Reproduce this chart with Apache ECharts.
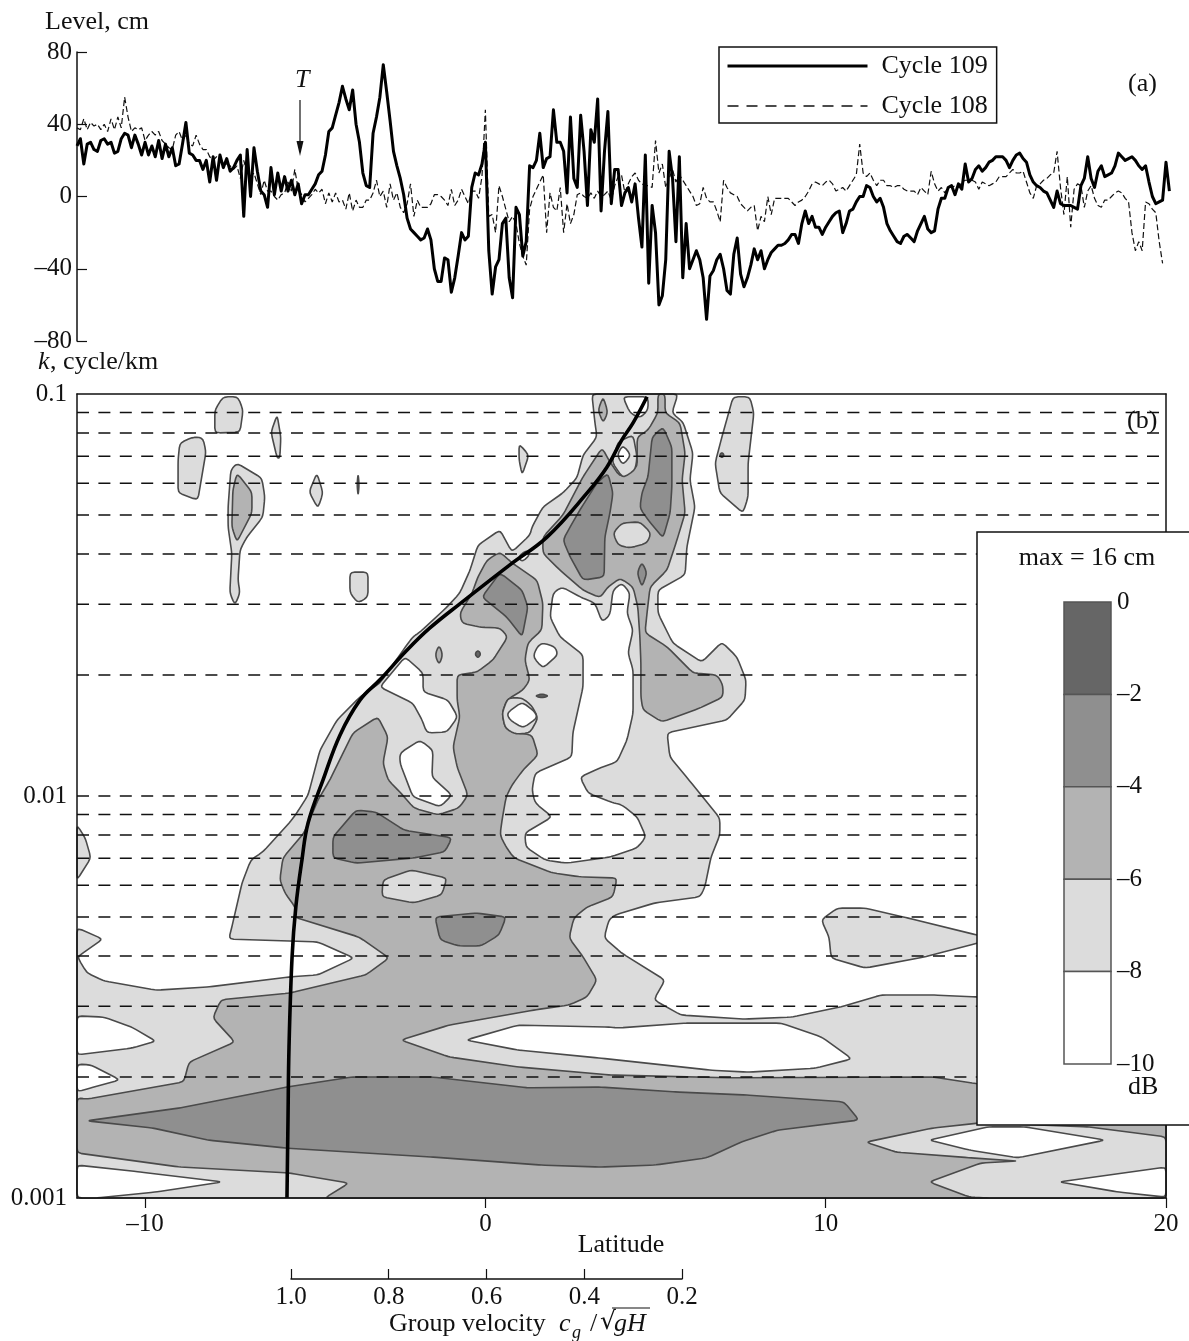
<!DOCTYPE html>
<html><head><meta charset="utf-8">
<script src="https://cdn.jsdelivr.net/npm/echarts@6/dist/echarts.min.js"></script>
<style>html,body{margin:0;padding:0;background:#fff}#c{width:1189px;height:1341px}</style>
</head><body><div id="c"></div>
<script>
// ---------- panel (a): sea level, cm, every 0.1 degree of latitude from -12
const latStart = -12, latStep = 0.1;
const level109 = [
28,32,18,29,30,26,25,31,32,29, 30,24,25,32,35,34,27,34,29,23, 30,23,28,22,31,21,29,22,27,17,
18,29,41,24,23,20,20,15,20,8, 22,9,23,16,21,14,16,20,23,-11, 26,0,27,14,3,1,-6,16,1,13,
3,11,3,9,1,7,-4,1,1,4, 7,12,14,23,36,38,45,52,61,54, 48,59,40,30,13,6,5,35,44,55,
73,58,42,25,17,10,1,-12,-18,-20, -22,-24,-23,-18,-24,-40,-47,-47,-34,-35, -53,-45,-33,-20,-24,-22,5,13,12,18,
30,-30,-54,-39,-35,-15,-12,-45,-56,-6, -10,-33,-25,17,16,20,35,16,21,22, 48,30,30,25,2,44,10,5,45,25,
-5,37,30,54,-8,25,47,-4,15,15, -5,2,5,-3,7,-12,-28,23,-48,-5, -20,-60,-55,-35,25,10,-25,22,-45,-15,
-40,-35,-30,-35,-45,-68,-44,-41,-35,-32, -40,-52,-54,-32,-23,-43,-50,-45,-38,-29, -35,-30,-40,-35,-31,-29,-27,-27,-26,-24,
-21,-21,-26,-15,-8,-15,-11,-17,-17,-21, -17,-14,-11,-9,-8,-20,-15,-8,-7,-3, 0,0,6,5,0,-3,-1,-6,-15,-19,
-22,-25,-26,-22,-21,-23,-25,-19,-15,-11, -18,-20,-19,-7,-1,-1,5,6,1,7, 4,18,8,10,15,17,14,16,19,20,
22,22,22,20,16,20,23,24,21,19, 12,8,6,5,3,2,-2,-6,3,-4, -5,-5,-5,-6,-7,6,10,22,10,5,
14,17,11,12,13,17,24,22,20,21, 22,20,17,15,17,8,0,-4,-3,-2, 19,3];
const level108 = [
38,37,43,37,41,39,40,37,40,36, 43,37,44,38,55,44,36,38,37,38, 31,34,36,34,36,31,29,27,26,34,
36,31,34,29,28,34,29,26,26,22, 20,22,20,18,18,17,15,17,10,20, 13,11,13,7,1,9,3,3,0,-2,
1,2,8,3,15,4,1,-3,-1,1, 4,2,4,-4,2,-3,2,-3,-2,-7, 2,-8,-2,-6,-6,-2,-2,2,9,0,
3,-6,7,-2,2,-6,-9,-4,7,-11, -2,-6,-6,-6,-4,1,1,0,-2,-5, 4,-5,-2,4,0,-4,3,3,-1,11,
48,-11,-10,-20,6,0,-7,-14,-11,-15, -26,-33,-38,-7,0,4,8,12,-20,2, -6,-8,5,-20,-4,-15,-10,1,2,0,
-1,2,-1,3,0,1,3,-2,6,11, 12,2,7,11,13,9,7,6,6,5, 31,13,18,5,10,15,8,12,9,6,
3,0,-5,-4,5,-1,-3,-3,-8,-14, 9,5,2,1,0,-4,-6,-8,-6,-5, -19,-11,-14,0,-10,-1,-1,-1,-1,-1,
-3,-5,-3,-2,0,3,7,8,7,6, 8,9,7,3,4,5,3,6,9,12, 29,13,11,13,9,6,9,9,6,6,
5,6,6,4,3,3,3,1,5,3, 1,14,7,3,5,2,5,5,6,5, 8,9,9,9,8,4,8,7,6,7,
8,11,11,11,13,15,13,13,14,8, 2,-1,6,7,9,10,12,13,25,5, -10,11,-17,4,7,6,-6,3,6,-1,
-5,-6,-2,-2,0,2,3,2,-1,-3, -20,-30,-25,-30,-3,-4,-7,-9,-25,-37];
const levelTicks = ['–80','–40','0','40','80'];

// ---------- panel (b): ticks, reference wavenumbers, group velocity curve
const latTicks = [-10, 0, 10, 20];
const waveNumbers = [0.09,0.08,0.07,0.06,0.05,0.04,0.03,0.02,0.01,0.009,0.008,0.007,0.006,0.005,0.004,0.003,0.002];
const curveLat = [-5.83,-5.80,-5.77,-5.68,-5.57,-5.39,-5.21,-4.77,-4.27,-3.68,-3.10,-2.30,-1.63,-0.75,0.72,1.81,2.99,3.57,4.01,4.34,4.75];
const curveLogK = [-3,-2.806,-2.624,-2.400,-2.276,-2.159,-2.067,-1.960,-1.848,-1.761,-1.711,-1.637,-1.582,-1.522,-1.425,-1.356,-1.246,-1.182,-1.114,-1.072,-1.007];
const dbLevels = [0,-2,-4,-6,-8,-10];

// ---------- contour outlines: lat, log10(k), lat, log10(k), ...
const band8main = [3.13,-1,3.22,-1.072,3.28,-1.107,2.87,-1.152,2.69,-1.209,2.28,-1.246,1.69,-1.281,1.37,-1.331,1.31,-1.351,0.78,-1.393,0.43,-1.338,-0.22,-1.376,-0.45,-1.438,-0.75,-1.495,-1.13,-1.53,-1.92,-1.592,-2.13,-1.604,-2.33,-1.627,-3.10,-1.719,-3.69,-1.754,-4.36,-1.811,-4.86,-1.886,-5.21,-1.998,-5.54,-2.042,-5.74,-2.065,-6.54,-2.139,-6.89,-2.159,-7.15,-2.216,-7.45,-2.326,-7.54,-2.356,-4.92,-2.363,-3.86,-2.403,-4.92,-2.445,-5.74,-2.45,-8.15,-2.475,-9.68,-2.483,-11.21,-2.46,-11.71,-2.44,-11.97,-2.403,-11.92,-2.396,-11.24,-2.356,-12,-2.328,-12,-3,20,-3,20,-2.507,14.45,-2.5,13.15,-2.495,11.63,-2.495,10.42,-2.525,9.01,-2.55,7.60,-2.555,5.75,-2.545,4.95,-2.507,5.28,-2.458,4.01,-2.391,3.49,-2.353,3.63,-2.308,3.81,-2.296,4.98,-2.266,6.31,-2.251,6.45,-2.226,6.63,-2.152,6.89,-2.097,6.89,-2.055,5.98,-1.96,5.42,-1.903,5.34,-1.843,7.10,-1.811,7.63,-1.761,7.66,-1.711,7.39,-1.654,6.95,-1.617,6.36,-1.667,5.51,-1.62,5.07,-1.545,5.07,-1.488,5.87,-1.45,5.92,-1.381,6.16,-1.281,6.01,-1.214,6.10,-1.147,5.81,-1.07,5.48,-1.047,5.66,-1];
const islandA1 = [-7.71,-1.007,-7.27,-1.007,-7.12,-1.04,-7.21,-1.095,-7.95,-1.097,-7.95,-1.04];
const islandA2 = [-6.12,-1.052,-6.01,-1.107,-6.04,-1.159,-6.12,-1.159,-6.30,-1.095];
const islandA3 = [-8.98,-1.122,-8.59,-1.107,-8.30,-1.109,-8.21,-1.144,-8.45,-1.264,-9.03,-1.246,-9.03,-1.164];
const islandA4 = [-7.30,-1.172,-6.57,-1.209,-6.48,-1.256,-6.54,-1.306,-7.01,-1.356,-7.21,-1.388,-7.27,-1.463,-7.21,-1.495,-7.36,-1.525,-7.51,-1.495,-7.45,-1.396,-7.56,-1.331,-7.56,-1.281,-7.48,-1.189];
const islandA5 = [-4.95,-1.197,-4.77,-1.246,-4.92,-1.284,-5.18,-1.244,-5.07,-1.221];
const islandA6 = [-3.74,-1.197,-3.71,-1.226,-3.74,-1.254,-3.77,-1.226];
const islandA7 = [-3.98,-1.443,-3.45,-1.443,-3.45,-1.505,-3.74,-1.52,-3.98,-1.495];
const islandA8 = [0.99,-1.124,1.28,-1.152,1.08,-1.201,0.99,-1.164];
const islandR1 = [7.28,-1.007,7.77,-1.007,7.89,-1.047,7.72,-1.172,7.72,-1.256,7.57,-1.296,6.89,-1.246,6.75,-1.172,6.95,-1.107];
const islandEdge = [-12,-2.072,-11.76,-2.104,-11.59,-2.154,-12,-2.209];
const islandE = [9.87,-2.308,10.34,-2.279,11.16,-2.279,12.39,-2.303,14.45,-2.346,15.12,-2.353,14.45,-2.366,12.92,-2.4,11.16,-2.428,10.16,-2.403,10.10,-2.351];
const band6main = [-0.22,-1.455,0.05,-1.413,0.43,-1.393,0.78,-1.42,1.52,-1.463,1.69,-1.52,1.66,-1.587,1.25,-1.619,1.16,-1.662,1.31,-1.711,1.11,-1.736,0.63,-1.761,0.49,-1.794,0.58,-1.831,0.87,-1.843,1.37,-1.848,1.55,-1.898,1.11,-1.935,0.78,-1.973,0.61,-2.002,0.49,-2.06,0.43,-2.097,0.61,-2.127,0.84,-2.154,1.96,-2.191,2.78,-2.201,3.87,-2.204,3.75,-2.251,2.99,-2.276,2.60,-2.303,2.46,-2.353,2.87,-2.4,3.28,-2.458,2.99,-2.5,2.46,-2.52,1.46,-2.532,-1.07,-2.57,-2.48,-2.607,-1.07,-2.649,0.96,-2.674,3.66,-2.694,7.28,-2.701,13.15,-2.699,14.45,-2.716,20,-2.716,20,-3,-4.72,-3,-4.01,-2.963,-5.74,-2.938,-8.98,-2.923,-12,-2.888,-12,-2.751,-11.71,-2.754,-8.86,-2.711,-8.71,-2.662,-7.36,-2.612,-8.01,-2.552,-7.77,-2.507,-5.74,-2.49,-3.51,-2.445,-2.83,-2.403,-3.71,-2.351,-5.62,-2.301,-5.57,-2.279,-5.89,-2.241,-6.04,-2.209,-5.95,-2.154,-5.33,-2.092,-4.92,-2.01,-4.57,-1.96,-3.89,-1.843,-3.16,-1.803,-2.86,-1.853,-3.01,-1.918,-2.86,-1.96,-2.48,-1.993,-2.10,-2.03,-1.39,-2.047,-0.78,-2.03,-0.51,-1.998,-0.83,-1.928,-0.95,-1.878,-0.75,-1.803,-0.83,-1.761,-0.83,-1.699,-0.25,-1.692,0.22,-1.662,0.66,-1.604,0.43,-1.582,-0.16,-1.58,-0.69,-1.57,-0.75,-1.545,-0.39,-1.495];
const band6upper = [3.43,-1.134,3.66,-1.169,3.96,-1.206,4.46,-1.182,4.46,-1.107,4.78,-1.09,5.07,-1.047,5.07,-1,5.28,-1,5.28,-1.047,5.72,-1.072,5.87,-1.147,5.78,-1.214,5.87,-1.296,5.63,-1.363,5.34,-1.438,4.84,-1.48,4.75,-1.545,4.69,-1.594,5.34,-1.629,6.10,-1.694,6.81,-1.699,6.98,-1.724,6.98,-1.754,6.31,-1.781,5.19,-1.816,4.63,-1.786,4.57,-1.754,4.57,-1.669,4.54,-1.604,4.48,-1.53,4.34,-1.48,3.96,-1.458,3.60,-1.48,3.37,-1.507,2.87,-1.488,2.19,-1.438,1.69,-1.396,1.69,-1.356,2.28,-1.301,2.87,-1.206];
const band6innerA4 = [-7.30,-1.197,-6.86,-1.244,-6.86,-1.296,-7.30,-1.368,-7.45,-1.331,-7.42,-1.239];
const band6dia1 = [3.46,-1.007,3.60,-1.045,3.46,-1.072,3.31,-1.04];
const band6dia2 = [-1.36,-1.624,-1.25,-1.649,-1.36,-1.674,-1.48,-1.649];
const band8lower = [11.18,-2.861,13.15,-2.826,14.56,-2.813,17.71,-2.823,20,-2.848,20,-3,14.77,-3,14.24,-2.998,13.04,-2.96,14.56,-2.913,15.65,-2.908,14.24,-2.9,12.07,-2.886];
const ring8a = [3.72,-1.169,3.90,-1.119,4.34,-1.102,4.46,-1.157,4.40,-1.189,4.04,-1.209];
const oval8a = [3.75,-1.346,4.01,-1.321,4.54,-1.318,4.87,-1.346,4.75,-1.371,4.25,-1.383,3.90,-1.376];
const oval8b = [-3.01,-2.209,-2.19,-2.184,-1.13,-2.204,-1.28,-2.246,-2.10,-2.266,-3.04,-2.251];
const ring8b = [0.49,-1.794,0.66,-1.756,1.08,-1.756,1.37,-1.776,1.55,-1.806,1.31,-1.843,0.87,-1.846,0.58,-1.831];
const holeCentre = [1.99,-1.495,2.25,-1.48,2.84,-1.507,3.22,-1.52,3.43,-1.567,3.66,-1.55,3.75,-1.488,4.01,-1.47,4.25,-1.495,4.16,-1.545,4.34,-1.587,4.19,-1.644,4.34,-1.686,4.34,-1.794,4.16,-1.861,3.87,-1.915,3.37,-1.93,2.78,-1.953,3.02,-1.993,3.75,-2.017,4.01,-2.022,4.46,-2.052,4.72,-2.102,4.46,-2.129,3.66,-2.152,2.37,-2.167,1.75,-2.159,1.19,-2.127,1.16,-2.092,1.96,-2.052,1.46,-2.017,1.37,-1.985,1.46,-1.943,2.54,-1.903,2.57,-1.843,2.87,-1.729,2.87,-1.649,2.19,-1.604,1.90,-1.555];
const holeA = [1.08,-1.766,1.46,-1.791,1.52,-1.806,1.11,-1.831,0.72,-1.811,0.63,-1.794];
const holeB = [1.69,-1.619,2.05,-1.629,2.13,-1.649,1.69,-1.682,1.40,-1.654,1.52,-1.629];
const holeNotch = [4.04,-1.007,4.25,-1.047,4.54,-1.06,4.78,-1.04,4.78,-1.007];
const holeDia = [3.87,-1.152,4.04,-1.127,4.28,-1.152,4.04,-1.177];
const holeTiny = [0.96,-1.405,1.22,-1.388,1.31,-1.4,1.08,-1.418];
const holeC = [-2.36,-1.654,-1.83,-1.694,-1.83,-1.741,-1.10,-1.761,-0.81,-1.803,-1.13,-1.841,-1.72,-1.843,-1.86,-1.811,-2.13,-1.769,-3.10,-1.729];
const holeD = [-2.51,-1.893,-1.92,-1.861,-1.54,-1.886,-1.57,-1.953,-0.98,-1.998,-1.33,-2.027,-2.13,-2.002,-2.51,-1.918];
const holeE = [-12,-2.547,-11.21,-2.55,-10.39,-2.575,-9.68,-2.61,-10.39,-2.627,-12,-2.644];
const holeF = [-12,-2.667,-11.59,-2.669,-10.74,-2.706,-11.59,-2.726,-12,-2.736];
const holeG = [-12,-2.918,-10.18,-2.935,-7.74,-2.96,-9.68,-2.985,-11.44,-3,-12,-3];
const holeLens = [-0.57,-2.607,0.96,-2.57,3.66,-2.575,3.90,-2.577,5.87,-2.565,8.69,-2.565,9.89,-2.6,10.77,-2.654,9.69,-2.677,7.72,-2.687,6.63,-2.682,3.37,-2.652,0.96,-2.632];
const holeH = [13.04,-2.856,14.77,-2.823,15.86,-2.823,18.21,-2.856,15.65,-2.9,14.24,-2.881];
const holeI = [16.86,-2.96,20,-2.923,20,-2.998,18.59,-2.985];
const core4a = [5.22,-1.082,5.48,-1.132,5.48,-1.231,5.43,-1.296,5.22,-1.358,4.78,-1.313,4.54,-1.284,4.60,-1.246,4.78,-1.206,4.90,-1.107];
const core4b = [3.60,-1.197,3.75,-1.246,3.66,-1.296,3.51,-1.356,3.49,-1.455,2.87,-1.463,2.49,-1.405,2.28,-1.363,2.49,-1.331,2.78,-1.288,3.28,-1.221];
const core4c = [4.60,-1.418,4.75,-1.445,4.60,-1.48,4.46,-1.445];
const core4d = [0.43,-1.445,1.08,-1.488,1.25,-1.53,1.08,-1.604,0.63,-1.555,-0.10,-1.505];
const core4e = [-3.80,-2.035,-3.21,-2.04,-2.39,-2.085,-0.98,-2.104,-1.19,-2.139,-2.10,-2.154,-3.80,-2.167,-4.48,-2.154,-4.48,-2.102];
const core4f = [-1.48,-2.301,-0.28,-2.291,0.61,-2.301,0.40,-2.346,-0.13,-2.373,-0.78,-2.373,-1.33,-2.358];
const core4g = [-11.71,-2.808,-8.98,-2.776,-5.83,-2.724,-3.92,-2.699,-1.57,-2.699,1.25,-2.726,3.37,-2.724,5.55,-2.736,7.72,-2.744,10.54,-2.761,10.98,-2.806,8.60,-2.831,7.51,-2.861,6.51,-2.9,4.98,-2.918,3.37,-2.923,1.61,-2.918,-1.57,-2.898,-5.83,-2.876,-8.15,-2.856,-9.77,-2.826];
const dotA = [-0.31,-1.647,-0.22,-1.637,-0.13,-1.647,-0.22,-1.657];
const dotB = [1.45,-1.751,1.66,-1.746,1.87,-1.751,1.66,-1.756];
const dotC = [6.88,-1.152,6.95,-1.145,7.02,-1.152,6.95,-1.159];

// drawing order, lowest first; the number is the dB band (index into bandFill)
const contourLayers = [
  [band8main,4],[islandA1,4],[islandA2,4],[islandA3,4],[islandA4,4],[islandA5,4],[islandA6,4],[islandA7,4],[islandA8,4],[islandR1,4],[islandEdge,4],[islandE,4],
  [band6main,3],[band6upper,3],[band6innerA4,3],[band6dia1,3],[band6dia2,3],
  [band8lower,4],[ring8a,4],[oval8a,4],[oval8b,4],[ring8b,4],
  [holeCentre,5],[holeA,5],[holeB,5],[holeNotch,5],[holeDia,5],[holeTiny,5],[holeC,5],[holeD,5],[holeE,5],[holeF,5],[holeG,5],[holeLens,5],[holeH,5],[holeI,5],
  [core4a,2],[core4b,2],[core4c,2],[core4d,2],[core4e,2],[core4f,2],[core4g,2],[dotA,1],[dotB,1],[dotC,1]
];
const bandFill = ['#666666','#666666','#8f8f8f','#b3b3b3','#dcdcdc','#ffffff'];
const keyFill = ['#666666','#8f8f8f','#b3b3b3','#dcdcdc','#ffffff'];

// ---------- styling
const SERIF = '"Liberation Serif","Times New Roman",serif';
const FS = 25, TS = 26;
const txt = (text, x, y, extra) => ({type:'text', x, y, z:30, silent:true,
  style:Object.assign({text, font:TS+'px '+SERIF, fill:'#111', textAlign:'left', textVerticalAlign:'middle'}, extra||{})});
const dash = s => String(s).replace('-','–');

// round polygon corners a little: cut each corner on its two edges, at most maxCut pixels back
function roundCorners(pts, maxCut, passes) {
  let cur = pts;
  for (let n=0;n<passes;n++) {
    const out = [];
    for (let i=0;i<cur.length;i++) {
      const p = cur[i], a = cur[(i+cur.length-1)%cur.length], b = cur[(i+1)%cur.length];
      const da = Math.hypot(a[0]-p[0],a[1]-p[1])||1, db = Math.hypot(b[0]-p[0],b[1]-p[1])||1;
      const ca = Math.min(maxCut, da*0.25)/da, cb = Math.min(maxCut, db*0.25)/db;
      out.push([p[0]+(a[0]-p[0])*ca, p[1]+(a[1]-p[1])*ca]);
      out.push([p[0]+(b[0]-p[0])*cb, p[1]+(b[1]-p[1])*cb]);
    }
    cur = out;
  }
  return cur;
}

const chart = echarts.init(document.getElementById('c'), null, {renderer:'canvas'});
chart.setOption({
  animation:false,
  backgroundColor:'#fff',
  textStyle:{fontFamily:SERIF},
  grid:[
    {left:77, top:52, width:1092.4, height:289},
    {left:77, top:394, width:1089, height:804},
    {left:1064, top:602, width:47, height:462},
    {left:291, top:1269, width:391, height:10}
  ],
  legend:{
    left:719, top:47, orient:'vertical', selectedMode:false, z:12,
    data:[
      {name:'Cycle 109', itemStyle:{opacity:0}, lineStyle:{color:'#000', width:3, type:'solid'}},
      {name:'Cycle 108', itemStyle:{opacity:0}, lineStyle:{color:'#111', width:1.3, type:[11,8]}}
    ],
    itemWidth:140, itemHeight:20, itemGap:14, padding:[6,9,4,7],
    borderColor:'#111', borderWidth:1.5, backgroundColor:'#fff',
    textStyle:{fontSize:TS, fontFamily:SERIF, color:'#111', padding:[0,0,6,9]}
  },
  xAxis:[
    {gridIndex:0, type:'value', min:latStart, max:20.1, show:false},
    {gridIndex:1, type:'value', min:latStart, max:20, position:'bottom', z:6,
      splitLine:{show:false},
      axisLine:{onZero:false, lineStyle:{color:'#111', width:1.5}},
      axisTick:{show:true, length:10, customValues:latTicks, lineStyle:{color:'#111', width:1.2}},
      axisLabel:{customValues:latTicks, margin:14, fontSize:FS, fontFamily:SERIF, color:'#111', formatter:v=>dash(v)}},
    {gridIndex:1, type:'value', min:latStart, max:20, position:'top', z:6,
      splitLine:{show:false}, axisTick:{show:false}, axisLabel:{show:false},
      axisLine:{onZero:false, lineStyle:{color:'#111', width:1.5}}},
    {gridIndex:2, type:'value', min:0, max:1, show:false},
    {gridIndex:3, type:'value', min:0.2, max:1, interval:0.2, inverse:true, position:'bottom',
      splitLine:{show:false},
      axisLine:{onZero:false, lineStyle:{color:'#111', width:1.5}},
      axisTick:{inside:true, length:10, lineStyle:{color:'#111', width:1.2}},
      axisLabel:{margin:6, fontSize:FS, fontFamily:SERIF, color:'#111', formatter:v=>v.toFixed(1)}}
  ],
  yAxis:[
    {gridIndex:0, type:'value', min:-80, max:80, interval:40, position:'left',
      splitLine:{show:false},
      axisLine:{show:true, onZero:false, lineStyle:{color:'#111', width:1.5}},
      axisTick:{show:true, inside:true, length:10, lineStyle:{color:'#111', width:1.2}},
      axisLabel:{margin:5, fontSize:FS, fontFamily:SERIF, color:'#111', formatter:v=>levelTicks[(v+80)/40]}},
    {gridIndex:1, type:'log', logBase:10, min:0.001, max:0.1, position:'left', z:6,
      splitLine:{show:false}, minorTick:{show:false},
      axisLine:{show:true, onZero:false, lineStyle:{color:'#111', width:1.5}},
      axisTick:{show:false},
      axisLabel:{margin:10, fontSize:FS, fontFamily:SERIF, color:'#111', formatter:v=>String(+(+v).toPrecision(1))}},
    {gridIndex:1, type:'log', logBase:10, min:0.001, max:0.1, position:'right', z:6,
      splitLine:{show:false}, axisTick:{show:false}, axisLabel:{show:false},
      axisLine:{show:true, onZero:false, lineStyle:{color:'#111', width:1.5}}},
    {gridIndex:2, type:'value', min:-10, max:0, interval:2, position:'right', z:20,
      splitLine:{show:false}, axisLine:{show:false}, axisTick:{show:false},
      axisLabel:{margin:6, fontSize:FS, fontFamily:SERIF, color:'#111', formatter:v=>dash(v)}},
    {gridIndex:3, type:'value', min:0, max:1, show:false}
  ],
  series:[
    {name:'Cycle 108', type:'line', xAxisIndex:0, yAxisIndex:0, symbol:'none', silent:true, z:3,
      itemStyle:{color:'#111'}, lineStyle:{color:'#111', width:1.2, type:[6,3]}, clip:false,
      data:level108.map((v,i)=>[+(latStart+i*latStep).toFixed(1), v])},
    {name:'Cycle 109', type:'line', xAxisIndex:0, yAxisIndex:0, symbol:'none', silent:true, z:4,
      itemStyle:{color:'#000'}, lineStyle:{color:'#000', width:3, join:'round'}, clip:false,
      data:level109.map((v,i)=>[+(latStart+i*latStep).toFixed(1), v])},
    {name:'contours', type:'custom', xAxisIndex:1, yAxisIndex:1, silent:true, z:2, clip:false,
      encode:{x:0,y:1},
      data:contourLayers.map((l,i)=>[l[0][0], Math.pow(10,l[0][1]), i]),
      renderItem:(params, api)=>{
        const layer = contourLayers[api.value(2)], p = layer[0], pts = [];
        for (let j=0;j<p.length;j+=2) pts.push(api.coord([p[j], Math.pow(10,p[j+1])]));
        return {type:'polygon', shape:{points:roundCorners(pts, 2.5, 2)},
          style:{fill:bandFill[layer[1]], stroke:'#4a4a4a', lineWidth:1.6, lineJoin:'round'}};
      }},
    {name:'wavenumbers', type:'custom', xAxisIndex:1, yAxisIndex:1, silent:true, z:3, clip:false,
      encode:{x:0,y:1},
      data:waveNumbers.map(k=>[latStart,k]),
      renderItem:(params, api)=>{
        const a = api.coord([latStart, api.value(1)]), b = api.coord([20, api.value(1)]);
        return {type:'line', shape:{x1:a[0],y1:a[1],x2:b[0],y2:b[1]},
          style:{stroke:'#111', lineWidth:1.5, lineDash:[12,9.4]}};
      }},
    {name:'group velocity', type:'line', xAxisIndex:1, yAxisIndex:1, symbol:'none', silent:true, z:4, smooth:0.4,
      lineStyle:{color:'#000', width:3.6},
      data:curveLat.map((x,i)=>[x, Math.pow(10,curveLogK[i])])},
    {name:'key', type:'custom', xAxisIndex:3, yAxisIndex:3, silent:true, z:20, clip:false,
      encode:{x:0,y:1},
      data:keyFill.map((c,i)=>[0, dbLevels[i], dbLevels[i+1], i]),
      renderItem:(params, api)=>{
        const a = api.coord([0, api.value(1)]), b = api.coord([1, api.value(2)]);
        return {type:'rect', shape:{x:a[0], y:a[1], width:b[0]-a[0], height:b[1]-a[1]},
          style:{fill:keyFill[api.value(3)], stroke:'#555', lineWidth:1.5}};
      }}
  ],
  graphic:{elements:[
    {type:'rect', z:10, silent:true, shape:{x:977, y:532, width:230, height:593},
      style:{fill:'#fff', stroke:'#111', lineWidth:1.5}},
    txt('Level, cm', 45, 22),
    txt('k', 38, 362, {font:'italic '+TS+'px '+SERIF}),
    txt(', cycle/km', 50, 362),
    txt('T', 295, 80, {font:'italic '+TS+'px '+SERIF}),
    {type:'line', z:30, silent:true, shape:{x1:300, y1:100, x2:300, y2:146}, style:{stroke:'#111', lineWidth:1.2}},
    {type:'polygon', z:30, silent:true, shape:{points:[[296.5,141],[303.5,141],[300,156]]}, style:{fill:'#111'}},
    txt('(a)', 1128, 84),
    txt('(b)', 1127, 421),
    txt('Latitude', 621, 1245, {textAlign:'center'}),
    txt('Group velocity', 389, 1324),
    txt('c', 559, 1324, {font:'italic '+TS+'px '+SERIF}),
    txt('g', 572, 1333, {font:'italic 18px '+SERIF}),
    txt('/', 590, 1324),
    txt('√', 600, 1322, {font:FS+'px "DejaVu Serif",'+SERIF}),
    {type:'line', z:30, silent:true, shape:{x1:612, y1:1308, x2:650, y2:1308}, style:{stroke:'#111', lineWidth:1.2}},
    txt('gH', 614, 1324, {font:'italic '+TS+'px '+SERIF}),
    txt('max = 16 cm', 1087, 558, {textAlign:'center'}),
    txt('dB', 1128, 1087)
  ]}
});
</script></body></html>
